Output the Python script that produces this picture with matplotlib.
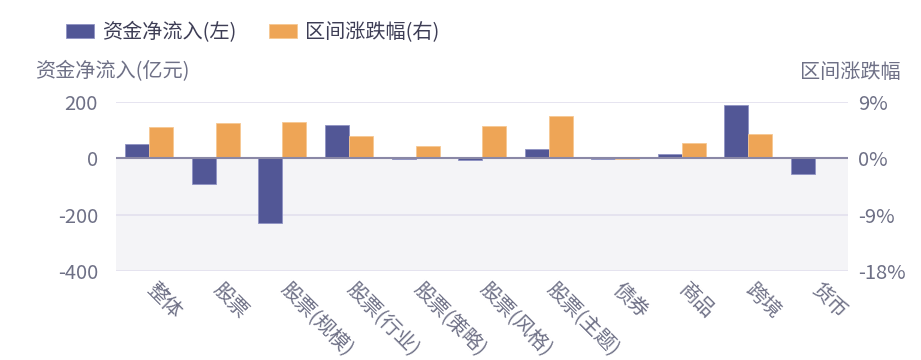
import numpy as np
import matplotlib
matplotlib.use('Agg')
import matplotlib.pyplot as plt

plt.rcParams['font.family'] = ['Noto Sans CJK SC', 'DejaVu Sans']

#--- 数据
categories = ['整体', '股票', '股票(规模)', '股票(行业)', '股票(策略)', '股票(风格)',
              '股票(主题)', '债券', '商品', '跨境', '货币']
net_inflow = [51, -91, -228, 117, -1, -7, 34, -1, 16, 189, -56]     # 亿元
pct_change = [5.05, 5.6, 5.85, 3.6, 2.0, 5.2, 6.7, -0.15, 2.4, 3.9, 0.0]  # %
left_ticks = [-400, -200, 0, 200]
right_ticks = [-18, -9, 0, 9]

blue = '#525796'
orange = '#eea556'
text_color = '#6e7086'
grid_color = '#e4e2ef'
fs = 14.5

fig = plt.figure(figsize=(9.21, 3.6), dpi=100)
ax = fig.add_axes([0.126, 0.247, 0.795, 0.470])
ax2 = ax.twinx()

x = np.arange(len(categories))
w = 0.36

ax.axhspan(-400, 0, color='#f4f4f7', zorder=0, lw=0)
for t in left_ticks:
    if t != 0:
        ax.axhline(t, color=grid_color, lw=1.3, zorder=1)

b1 = ax.bar(x - w / 2, net_inflow, w, color=blue, edgecolor='#8f93c4', lw=0.6, zorder=3,
            label='资金净流入(左)')
b2 = ax2.bar(x + w / 2, pct_change, w, color=orange, edgecolor='#f6c893', lw=0.6, zorder=3,
             label='区间涨跌幅(右)')
ax2.axhline(0, color='#8a88a6', lw=1.5, zorder=4)

ax.set_xlim(-0.5, len(categories) - 0.5)
ax.set_ylim(-400, 200)
ax2.set_ylim(-18, 9)
ax.set_yticks(left_ticks)
ax.set_yticklabels([str(t) for t in left_ticks])
ax2.set_yticks(right_ticks)
ax2.set_yticklabels([f'{t}%' for t in right_ticks])

ax.set_xticks(x)
ax.set_xticklabels(categories, rotation=-45, ha='left', va='center', rotation_mode='anchor')

for a in (ax, ax2):
    for s in a.spines.values():
        s.set_visible(False)
    a.tick_params(length=0, colors=text_color, labelsize=fs)
ax.tick_params(axis='y', pad=13)
ax2.tick_params(axis='y', pad=7)
ax.tick_params(axis='x', pad=11)

fig.text(0.038, 0.80, '资金净流入(亿元)', color=text_color, fontsize=fs, ha='left', va='center')
fig.text(0.978, 0.80, '区间涨跌幅', color=text_color, fontsize=fs, ha='right', va='center')

fig.legend(handles=[b1, b2], loc='center left', bbox_to_anchor=(0.052, 0.91), ncol=2,
           frameon=False, fontsize=fs, handlelength=1.4, handleheight=0.65,
           handletextpad=0.4, columnspacing=1.6, labelcolor='#3d3d55')

fig.savefig('out.png', dpi=100)
